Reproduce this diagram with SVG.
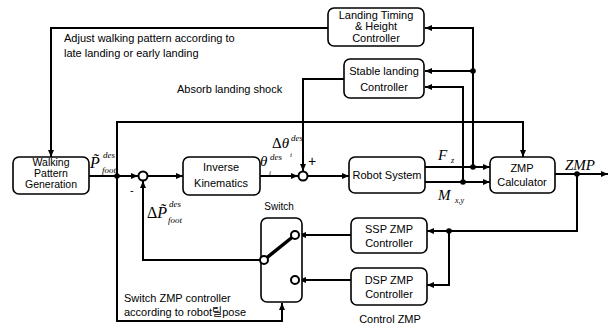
<svg xmlns="http://www.w3.org/2000/svg" width="612" height="326" viewBox="0 0 612 326">
<style>
.box{fill:#fff;stroke:#000;stroke-width:1.6}
.t{font-family:"Liberation Sans",Arial,sans-serif;font-size:11px;fill:#000}
.c{text-anchor:middle}
.m{font-family:"Liberation Serif","Times New Roman",serif;font-style:italic;fill:#000}
.ln{fill:none;stroke:#000;stroke-width:2}
.sum{fill:#fff;stroke:#000;stroke-width:2}
</style>
<defs>
<marker id="ar" markerWidth="8" markerHeight="8" refX="7" refY="4" orient="auto" markerUnits="userSpaceOnUse">
<path d="M0,1 L7,4 L0,7 Z" fill="#000"/>
</marker>
</defs>
<rect width="612" height="326" fill="#fff"/>

<g id="connectors">
<polyline class="ln" points="328,28 51,28 51,157" marker-end="url(#ar)"/>
<polyline class="ln" points="473,167 473,28 425,28" marker-end="url(#ar)"/>
<line class="ln" x1="473" y1="71" x2="425" y2="71" marker-end="url(#ar)"/>
<polyline class="ln" points="463,182 463,87 425,87" marker-end="url(#ar)"/>
<polyline class="ln" points="344,79 303,79 303,171" marker-end="url(#ar)"/>
<polyline class="ln" points="117,176 117,122 523,122 523,157" marker-end="url(#ar)"/>
<polyline class="ln" points="117,176 117,321 282,321 282,303" marker-end="url(#ar)"/>
<line class="ln" x1="89" y1="176" x2="138" y2="176" marker-end="url(#ar)"/>
<line class="ln" x1="148" y1="176" x2="183" y2="176" marker-end="url(#ar)"/>
<line class="ln" x1="260" y1="176" x2="298" y2="176" marker-end="url(#ar)"/>
<line class="ln" x1="308" y1="176" x2="349" y2="176" marker-end="url(#ar)"/>
<line class="ln" x1="425" y1="167" x2="490" y2="167" marker-end="url(#ar)"/>
<line class="ln" x1="425" y1="182" x2="490" y2="182" marker-end="url(#ar)"/>
<line class="ln" x1="555" y1="174" x2="608" y2="174" marker-end="url(#ar)"/>
<polyline class="ln" points="577,174 577,231 427,231" marker-end="url(#ar)"/>
<polyline class="ln" points="449,231 449,285 427,285" marker-end="url(#ar)"/>
<line class="ln" x1="351" y1="235" x2="299" y2="235" marker-end="url(#ar)"/>
<line class="ln" x1="351" y1="280" x2="299" y2="280" marker-end="url(#ar)"/>
<polyline class="ln" points="260,260 143,260 143,181" marker-end="url(#ar)"/>
<g fill="#000">
<circle cx="473" cy="71" r="2.8"/>
<circle cx="473" cy="167" r="2.8"/>
<circle cx="463" cy="182" r="2.8"/>
<circle cx="117" cy="176" r="2.8"/>
<circle cx="577" cy="174" r="2.8"/>
<circle cx="449" cy="231" r="2.8"/>
</g>
</g>

<g id="landing-timing">
<rect class="box" x="328" y="8" width="96" height="38" rx="6"/>
<text class="t c" x="376" y="19">Landing Timing</text>
<text class="t c" x="376" y="30">&amp; Height</text>
<text class="t c" x="376" y="42">Controller</text>
</g>
<g id="stable-landing">
<rect class="box" x="344" y="59" width="80" height="39" rx="6"/>
<text class="t c" x="384" y="75">Stable landing</text>
<text class="t c" x="384" y="91">Controller</text>
</g>
<g id="walking">
<rect class="box" x="13" y="157" width="76" height="37" rx="6"/>
<text class="t c" x="51" y="166" style="font-size:10.5px">Walking</text>
<text class="t c" x="51" y="176.5" style="font-size:10.5px">Pattern</text>
<text class="t c" x="51" y="188" style="font-size:10.5px">Generation</text>
</g>
<g id="sum1"><circle class="sum" cx="143" cy="176" r="4.5"/></g>
<g id="inverse">
<rect class="box" x="183" y="157" width="77" height="38" rx="6"/>
<text class="t c" x="221" y="171">Inverse</text>
<text class="t c" x="221" y="187">Kinematics</text>
</g>
<g id="sum2"><circle class="sum" cx="303" cy="176" r="4.5"/></g>
<g id="robot">
<rect class="box" x="349" y="157" width="76" height="36" rx="6"/>
<text class="t c" x="387" y="179">Robot System</text>
</g>
<g id="zmp-calc">
<rect class="box" x="490" y="157" width="65" height="36" rx="6"/>
<text class="t c" x="522" y="172">ZMP</text>
<text class="t c" x="522" y="186">Calculator</text>
</g>
<g id="ssp">
<rect class="box" x="351" y="218" width="76" height="35" rx="6"/>
<text class="t c" x="389" y="233">SSP ZMP</text>
<text class="t c" x="389" y="247">Controller</text>
</g>
<g id="dsp">
<rect class="box" x="351" y="268" width="76" height="37" rx="6"/>
<text class="t c" x="389" y="284">DSP ZMP</text>
<text class="t c" x="389" y="298">Controller</text>
</g>
<g id="switch">
<text class="t c" x="279" y="210" style="font-size:10px">Switch</text>
<rect class="box" x="261" y="218" width="41" height="84" rx="6"/>
<line x1="264" y1="260" x2="295" y2="235" stroke="#000" stroke-width="3.5"/>
<circle class="sum" cx="264" cy="260" r="4"/>
<circle class="sum" cx="295" cy="235" r="4"/>
<circle class="sum" cx="295" cy="280" r="4"/>
</g>

<g id="labels">
<text class="t" x="64" y="42">Adjust walking pattern according to</text>
<text class="t" x="64" y="57">late landing or early landing</text>
<text class="t" x="177" y="93">Absorb landing shock</text>
<text class="t" x="124" y="302">Switch ZMP controller</text>
<text class="t" x="124" y="316">according to robot<tspan font-family="'Noto Sans CJK KR',sans-serif">릴</tspan>pose</text>
<text class="t c" x="390" y="323">Control ZMP</text>
<text class="t" x="130" y="194">-</text>
<text class="t" x="308" y="166" style="font-size:14px">+</text>

<text class="m" x="90" y="168" style="font-size:16px">P̃</text>
<text class="m" x="103" y="158" style="font-size:9px">des</text>
<text class="m" x="102" y="173" style="font-size:9px">foot</text>

<text class="m" x="147" y="218" style="font-size:16px;font-style:normal">Δ<tspan font-style="italic">P̃</tspan></text>
<text class="m" x="169" y="207" style="font-size:9px">des</text>
<text class="m" x="168" y="223" style="font-size:9px">foot</text>

<text class="m" x="272" y="148" style="font-size:15px;font-style:normal">Δ<tspan font-style="italic">θ</tspan></text>
<text class="m" x="291" y="141" style="font-size:9px">des</text>
<text class="m" x="290" y="157" style="font-size:7px">i</text>

<text class="m" x="260" y="166" style="font-size:15px">θ</text>
<text class="m" x="270" y="160" style="font-size:9px">des</text>
<text class="m" x="269" y="175" style="font-size:7px">i</text>

<text class="m" x="438" y="160" style="font-size:15px">F</text>
<text class="m" x="451" y="163" style="font-size:8px">z</text>
<text class="m" x="438" y="200" style="font-size:15px">M</text>
<text class="m" x="455" y="203" style="font-size:8px">x,y</text>
<text class="m" x="565" y="170" style="font-size:15px">ZMP</text>
</g>
</svg>
